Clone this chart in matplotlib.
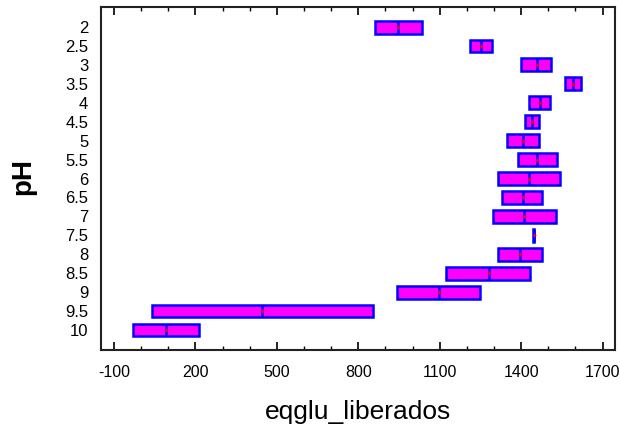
import matplotlib
matplotlib.use('Agg')
from matplotlib import pyplot as plt
from matplotlib.ticker import MultipleLocator
import numpy as np

# pH levels (categories, top to bottom)
ph = ['2', '2.5', '3', '3.5', '4', '4.5', '5', '5.5', '6',
      '6.5', '7', '7.5', '8', '8.5', '9', '9.5', '10']

# interval limits and means of eqglu_liberados
lo   = [860, 1210, 1399, 1560, 1429, 1416, 1348, 1389, 1314,
        1331, 1297, 1443, 1314, 1125, 941, 40, -30]
hi   = [1034, 1293, 1511, 1620, 1506, 1466, 1466, 1533, 1544,
        1477, 1528, 1448, 1477, 1431, 1247, 856, 213]
mean = [948, 1252, 1459, 1591, 1470, 1441, 1408, 1459, 1430,
        1407, 1412, 1446, 1395, 1280, 1097, 447, 93]

plt.rcParams['font.family'] = ['Liberation Sans', 'DejaVu Sans']
plt.rcParams['axes.unicode_minus'] = False

fig = plt.figure(figsize=(6.2, 4.43), dpi=100)
ax = fig.add_axes([0.1624, 0.2099, 0.8296, 0.7743])

y = np.arange(len(ph))
lo = np.array(lo)
hi = np.array(hi)
h = 0.68

ax.barh(y, hi - lo, left=lo, height=h, color='#ff00ff',
        edgecolor='#0000ff', linewidth=1.8, zorder=2)
ax.vlines(mean, y - h / 2, y + h / 2, color='#0000ff', linewidth=1.8, zorder=3)
ax.plot(mean, y, '+', color='red', ms=3, mew=0.8, zorder=4)

ax.set_xlim(-149, 1746)
ax.set_ylim(len(ph) - 1 + 1.06, -1.06)

ax.xaxis.set_minor_locator(MultipleLocator(100))
ax.set_xticks(np.arange(-100, 1701, 300))
ax.tick_params(axis='x', which='major', direction='in', top=True, length=6,
               width=1.2, labelsize=11.5, pad=11)
ax.tick_params(axis='x', which='minor', direction='in', top=True, length=3, width=1)

ax.set_yticks(y)
ax.set_yticklabels(ph)
ax.tick_params(axis='y', length=0, labelsize=12, pad=9)

for s in ax.spines.values():
    s.set_linewidth(1.5)
    s.set_color('#222222')

ax.set_xlabel('eqglu_liberados', fontsize=19)
ax.xaxis.set_label_coords(0.5, -0.145)
ax.set_ylabel('pH', fontsize=20, fontweight='bold')
ax.yaxis.set_label_coords(-0.125, 0.507)

fig.savefig('out.png', dpi=100)
